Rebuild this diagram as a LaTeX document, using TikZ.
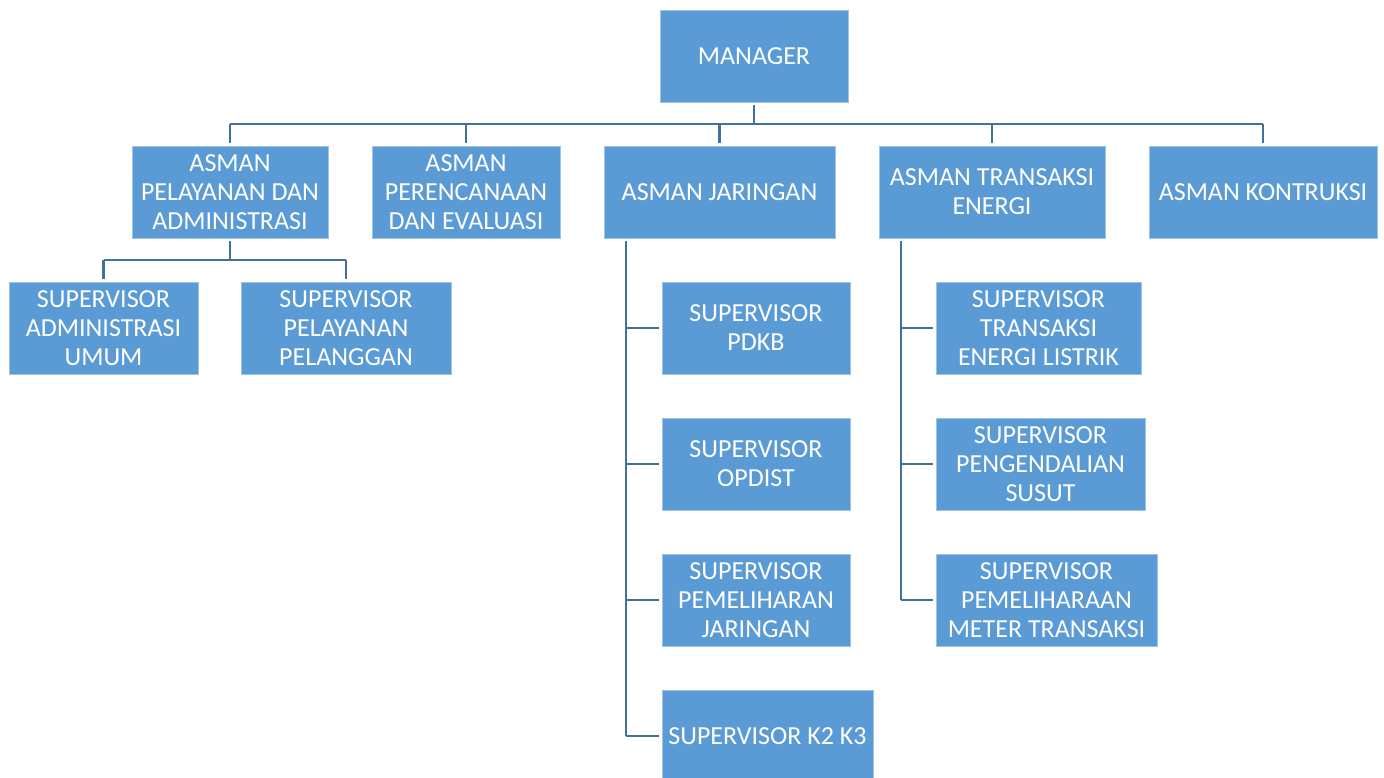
\documentclass[tikz,border=0pt]{standalone}
\usepackage{fontspec}
\setmainfont{Carlito}
\usepackage{tikz}
\definecolor{unitfill}{RGB}{91, 155, 213}
\definecolor{unitedge}{RGB}{157, 195, 230}
\definecolor{linkink}{RGB}{65, 113, 156}

\begin{document}
\begin{tikzpicture}[x=0.02cm, y=-0.02cm,
    unit/.style={rectangle, fill=unitfill, draw=unitedge, line width=0.5pt, text=white,
      align=center, inner sep=0pt, outer sep=1.6pt, minimum height=1.84cm,
      font=\fontsize{14.8}{16.5}\selectfont},
    link/.style={draw=linkink, line width=1.6pt}]
  \useasboundingbox (0,0) rectangle (1384,778);
  \node[unit, minimum width=3.76cm] (mgr) at (754,56) {MANAGER};
  \node[unit, minimum width=3.92cm] (aPel) at (230,192) {ASMAN\\ PELAYANAN DAN\\ ADMINISTRASI};
  \node[unit, minimum width=3.76cm] (aRen) at (466,192) {ASMAN\\ PERENCANAAN\\ DAN EVALUASI};
  \node[unit, minimum width=4.62cm] (aJar) at (719.5,192) {ASMAN JARINGAN};
  \node[unit, minimum width=4.52cm] (aTra) at (992,192) {ASMAN TRANSAKSI\\ ENERGI};
  \node[unit, minimum width=4.56cm] (aKon) at (1263,192) {ASMAN KONTRUKSI};
  \node[unit, minimum width=3.78cm] (sAdm) at (103.5,328) {SUPERVISOR\\ ADMINISTRASI\\ UMUM};
  \node[unit, minimum width=4.20cm] (sPlg) at (346,328) {SUPERVISOR\\ PELAYANAN\\ PELANGGAN};
  \node[unit, minimum width=3.76cm] (sPdkb) at (756,328) {SUPERVISOR\\ PDKB};
  \node[unit, minimum width=3.76cm] (sOpd) at (756,464) {SUPERVISOR\\ OPDIST};
  \node[unit, minimum width=3.76cm] (sPjr) at (756,600) {SUPERVISOR\\ PEMELIHARAN\\ JARINGAN};
  \node[unit, minimum width=4.22cm] (sK23) at (767.5,736) {SUPERVISOR K2 K3};
  \node[unit, minimum width=4.10cm] (sTel) at (1038.5,328) {SUPERVISOR\\ TRANSAKSI\\ ENERGI LISTRIK};
  \node[unit, minimum width=4.18cm] (sSus) at (1040.5,464) {SUPERVISOR\\ PENGENDALIAN\\ SUSUT};
  \node[unit, minimum width=4.42cm] (sMtr) at (1046.5,600) {SUPERVISOR\\ PEMELIHARAAN\\ METER TRANSAKSI};

  \coordinate (topbar) at (0,124);
  \coordinate (pelbar) at (0,260);
  \coordinate (jarline) at (626,0);
  \coordinate (traline) at (901,0);

  \draw[link] (mgr.south) -- (mgr.south |- topbar);
  \draw[link] (aPel.north |- topbar) -- (aKon.north |- topbar);
  \foreach \u in {aPel,aRen,aJar,aTra,aKon}
    \draw[link] (\u.north |- topbar) -- (\u.north);

  \draw[link] (aPel.south) -- (aPel.south |- pelbar);
  \draw[link] (sAdm.north |- pelbar) -- (sPlg.north |- pelbar);
  \foreach \u in {sAdm,sPlg}
    \draw[link] (\u.north |- pelbar) -- (\u.north);

  \draw[link] (aJar.south -| jarline) -- (sK23.west -| jarline);
  \foreach \u in {sPdkb,sOpd,sPjr,sK23}
    \draw[link] (\u.west -| jarline) -- (\u.west);

  \draw[link] (aTra.south -| traline) -- (sMtr.west -| traline);
  \foreach \u in {sTel,sSus,sMtr}
    \draw[link] (\u.west -| traline) -- (\u.west);
\end{tikzpicture}
\end{document}
